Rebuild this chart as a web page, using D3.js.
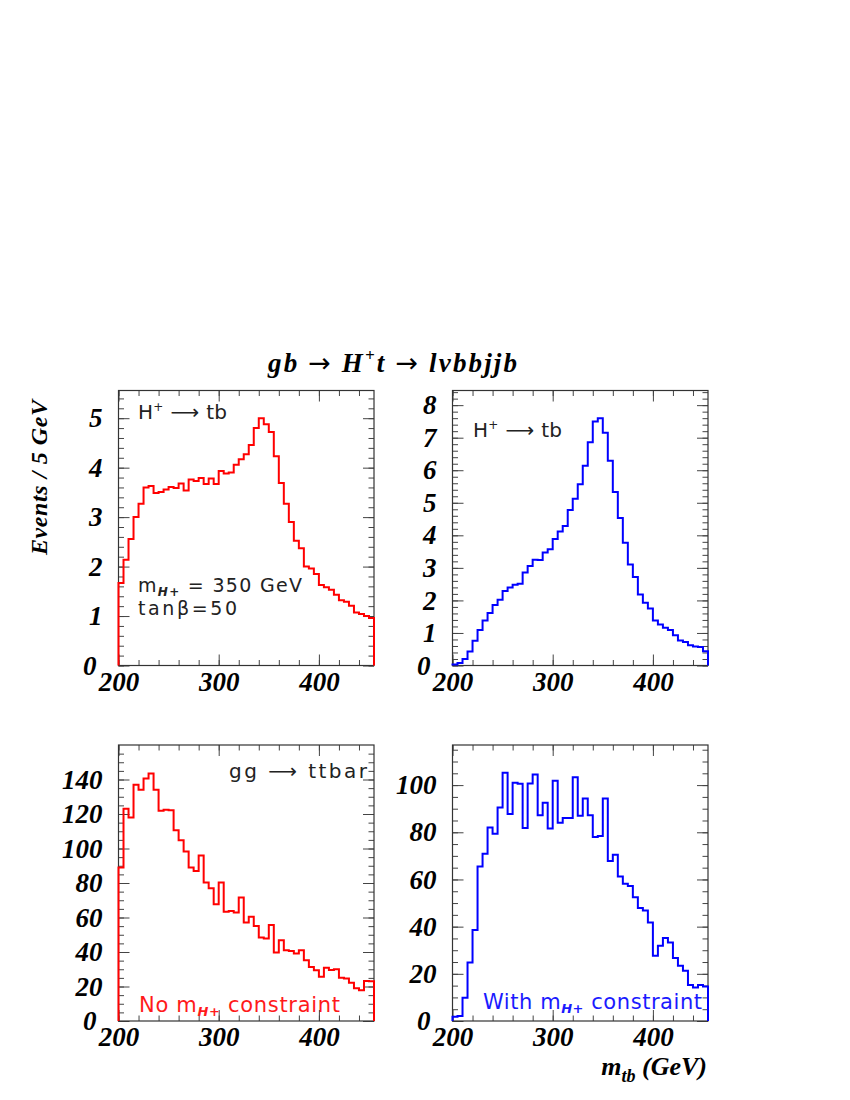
<!DOCTYPE html>
<html>
<head>
<meta charset="utf-8">
<script src="https://cdn.jsdelivr.net/npm/d3@7/dist/d3.min.js"></script>
<style>
  body { margin: 0; background: #fff; }
  .tick text { font-family: "Liberation Serif", "Times New Roman", serif; font-weight: bold; font-style: italic; font-size: 27px; fill: #000; }
  .tick line { stroke: #444; stroke-width: 1; }
  .note { font-family: "DejaVu Sans", "Liberation Sans", sans-serif; }
</style>
</head>
<body>
<svg id="chart" width="850" height="1100"></svg>
<script>
// m_tb histograms, 5 GeV bins starting at 200 GeV
const binLow = 200;
const binWidth = 5;
const xTickValues = [200, 300, 400];

// H+ -> tb, no m_H+ constraint (top left)
const signalNoConstraint = [
  1.67, 2.14, 2.56, 3.0, 3.27, 3.6, 3.63, 3.49, 3.51, 3.56,
  3.61, 3.59, 3.68, 3.54, 3.76, 3.73, 3.79, 3.67, 3.78, 3.67,
  3.93, 3.88, 3.90, 4.06, 4.17, 4.27, 4.46, 4.80, 5.0, 4.88,
  4.72, 4.23, 3.69, 3.27, 2.90, 2.52, 2.37, 2.0, 1.96, 1.85,
  1.63, 1.58, 1.53, 1.43, 1.32, 1.29, 1.21, 1.07, 1.04, 1.00, 0.96
];
// H+ -> tb, with m_H+ constraint (top right)
const signalWithConstraint = [
  0.03, 0.08, 0.2, 0.43, 0.76, 1.09, 1.38, 1.61, 1.86, 2.02,
  2.29, 2.40, 2.48, 2.51, 2.86, 3.06, 3.25, 3.24, 3.47, 3.57,
  3.89, 4.12, 4.29, 4.78, 5.12, 5.57, 6.14, 6.86, 7.5, 7.6,
  7.15, 6.29, 5.33, 4.53, 3.77, 3.10, 2.72, 2.18, 1.93, 1.75,
  1.38, 1.26, 1.16, 1.09, 0.93, 0.77, 0.72, 0.62, 0.58, 0.57, 0.44
];
// gg -> ttbar, no constraint (bottom left)
const ttbarNoConstraint = [
  89, 123, 118, 137, 134, 140.6, 143.5, 134, 121.9, 122.4,
  122.2, 110.6, 104.8, 98.3, 89, 87, 96, 80.3, 77, 67.7,
  80.3, 63.4, 63.8, 62.9, 71.6, 57.1, 60.5, 55.1, 48.4, 47.8,
  55.7, 39.7, 46.8, 41, 40.6, 39.1, 41, 35.2, 31.3, 29.4,
  25.7, 30.9, 29.6, 30, 25.1, 24.6, 22.2, 19, 17.8, 23.2, 23
];
// gg -> ttbar, with constraint (bottom right)
const ttbarWithConstraint = [
  1.8, 2.1, 9.9, 24.8, 38.6, 65.5, 70.9, 82, 79.4, 90.5,
  105.2, 87.7, 101, 100.6, 81.8, 100.7, 104.5, 87.2, 92.5, 81.6,
  101.8, 84, 86.1, 86.1, 103.3, 87, 94.3, 87.2, 78, 78.4,
  94.3, 67.8, 70.5, 61.3, 58.2, 57.2, 52.5, 47.9, 46.8, 41.8,
  27.7, 31.9, 35.2, 33.3, 26.7, 23.4, 21.3, 15.3, 14.2, 15.3, 14.6
];

const panels = [
  { data: signalNoConstraint, color: "#ff0000", left: 118.5, right: 374, top: 390.5, bottom: 665.5,
    yMax: 5.56, yMajor: d3.range(0, 6, 1), yMinor: d3.range(0, 5.6, 0.2) },
  { data: signalWithConstraint, color: "#0000ff", left: 452.5, right: 708, top: 390.5, bottom: 665.5,
    yMax: 8.45, yMajor: d3.range(0, 9, 1), yMinor: d3.range(0, 8.45, 0.2) },
  { data: ttbarNoConstraint, color: "#ff0000", left: 118.5, right: 374, top: 745, bottom: 1021,
    yMax: 160, yMajor: d3.range(0, 160, 20), yMinor: d3.range(0, 160, 5) },
  { data: ttbarWithConstraint, color: "#0000ff", left: 452.5, right: 708, top: 745, bottom: 1021,
    yMax: 117, yMajor: d3.range(0, 117, 20), yMinor: d3.range(0, 117, 5) }
];

const svg = d3.select("#chart");
svg.append("rect").attr("width", 850).attr("height", 1100).attr("fill", "#fff");

const xHigh = binLow + binWidth * signalNoConstraint.length;
const xMinor = d3.range(binLow, xHigh, 20);

panels.forEach((p) => {
  const x = d3.scaleLinear().domain([binLow, xHigh]).range([p.left, p.right]);
  const y = d3.scaleLinear().domain([0, p.yMax]).range([p.bottom, p.top]);
  const g = svg.append("g");

  const addAxis = (axis, tx, ty) => {
    const a = g.append("g").attr("transform", `translate(${tx},${ty})`).call(axis);
    a.select(".domain").remove();
    return a;
  };
  // minor ticks on all four sides
  addAxis(d3.axisLeft(y).tickValues(p.yMinor).tickSize(-5.5).tickFormat(""), p.left, 0);
  addAxis(d3.axisRight(y).tickValues(p.yMinor).tickSize(-5.5).tickFormat(""), p.right, 0);
  addAxis(d3.axisBottom(x).tickValues(xMinor).tickSize(-5.5).tickFormat(""), 0, p.bottom);
  addAxis(d3.axisTop(x).tickValues(xMinor).tickSize(-5.5).tickFormat(""), 0, p.top);

  // major ticks with labels
  const yAx = addAxis(d3.axisLeft(y).tickValues(p.yMajor).tickSize(-11).tickPadding(16).tickFormat(d3.format("d")), p.left, 0);
  // zero label sits just left of the "200" x label
  yAx.selectAll(".tick text").filter((d) => d === 0).attr("x", -22);
  addAxis(d3.axisRight(y).tickValues(p.yMajor).tickSize(-11).tickFormat(""), p.right, 0);
  addAxis(d3.axisBottom(x).tickValues(xTickValues).tickSize(-11).tickPadding(6).tickFormat(d3.format("d")), 0, p.bottom);
  addAxis(d3.axisTop(x).tickValues(xTickValues).tickSize(-11).tickFormat(""), 0, p.top);

  // frame
  g.append("rect")
    .attr("x", p.left).attr("y", p.top)
    .attr("width", p.right - p.left).attr("height", p.bottom - p.top)
    .attr("fill", "none").attr("stroke", "#333").attr("stroke-width", 1.2);

  // histogram outline
  const pts = [[binLow, 0]];
  p.data.forEach((v, i) => {
    pts.push([binLow + i * binWidth, v]);
    pts.push([binLow + (i + 1) * binWidth, v]);
  });
  pts.push([xHigh, 0]);
  g.append("path")
    .attr("d", d3.line().x((d) => x(d[0])).y((d) => y(d[1]))(pts))
    .attr("fill", "none")
    .attr("stroke", p.color)
    .attr("stroke-width", 2);
});

// annotations
function note(px, py, width, size, color) {
  return svg.append("text").attr("class", "note")
    .attr("x", px).attr("y", py).attr("font-size", size).attr("fill", color)
    .attr("textLength", width).attr("lengthAdjust", "spacing");
}
function decay(t) {
  t.append("tspan").text("H");
  t.append("tspan").attr("dy", -8).attr("font-size", 12).text("+");
  t.append("tspan").attr("dy", 8).text(" \u27F6 tb");
}
function massSub(t, before, after, size) {
  t.append("tspan").text(before);
  t.append("tspan").attr("dy", 4).attr("font-size", size)
    .attr("font-style", "italic").attr("font-weight", "bold").text("H+");
  t.append("tspan").attr("dy", -4).text(after);
}

decay(note(138, 419, 89, 20, "#222"));
decay(note(473, 437, 89, 20, "#222"));
massSub(note(138, 592, 164, 19, "#222"), "m", " = 350 GeV", 12);
note(138, 615, 99, 19, "#222").text("tan\u03B2=50");
note(229, 778, 138, 20, "#222").text("gg \u27F6 ttbar");
massSub(note(139, 1012, 201, 21, "#ff1a1a"), "No m", " constraint", 13);
massSub(note(483, 1009, 219, 21, "#1a1aff"), "With m", " constraint", 13);

// title and axis titles
const serif = "'Liberation Serif', 'Times New Roman', serif";
let t = svg.append("text")
  .attr("x", 268).attr("y", 372)
  .attr("font-family", serif).attr("font-weight", "bold").attr("font-style", "italic")
  .attr("font-size", 27).attr("textLength", 249).attr("lengthAdjust", "spacing");
t.append("tspan").text("gb ");
t.append("tspan").attr("font-family", "'DejaVu Sans', sans-serif").attr("font-weight", "normal").attr("font-style", "normal").text("\u2192");
t.append("tspan").text(" H");
t.append("tspan").attr("dy", -11).attr("font-size", 17).text("+");
t.append("tspan").attr("dy", 11).text("t ");
t.append("tspan").attr("font-family", "'DejaVu Sans', sans-serif").attr("font-weight", "normal").attr("font-style", "normal").text("\u2192");
t.append("tspan").text(" l\u03BDbbjjb");

svg.append("text")
  .attr("transform", "translate(47,477.5) rotate(-90)")
  .attr("text-anchor", "middle")
  .attr("font-family", serif).attr("font-weight", "bold").attr("font-style", "italic")
  .attr("font-size", 24).attr("textLength", 155).attr("lengthAdjust", "spacing")
  .text("Events / 5 GeV");

t = svg.append("text")
  .attr("x", 707).attr("y", 1075).attr("text-anchor", "end")
  .attr("font-family", serif).attr("font-weight", "bold").attr("font-style", "italic")
  .attr("font-size", 26);
t.append("tspan").text("m");
t.append("tspan").attr("dy", 7).attr("font-size", 18).text("tb");
t.append("tspan").attr("dy", -7).text(" (GeV)");
</script>
</body>
</html>
